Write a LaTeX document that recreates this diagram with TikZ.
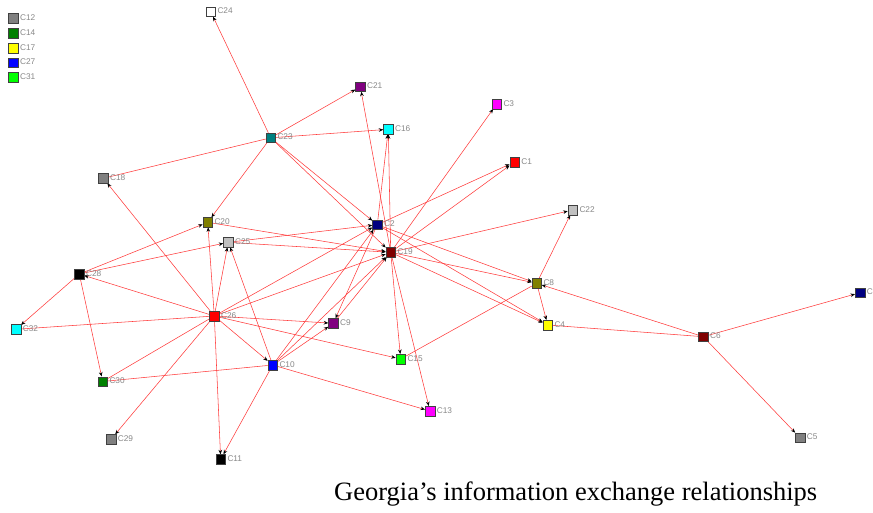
\documentclass[tikz,border=0pt]{standalone}
\usepackage{fontspec}
\setmainfont{Liberation Serif}
\newfontfamily\lblfont{Liberation Sans}
\usetikzlibrary{arrows.meta,backgrounds}
\definecolor{tiered}{RGB}{255,60,60}
\definecolor{lblgray}{RGB}{135,135,135}
% actor palette
\definecolor{pgray}{HTML}{808080}
\definecolor{psilver}{HTML}{C0C0C0}
\definecolor{pgreen}{HTML}{008000}
\definecolor{plime}{HTML}{00FF00}
\definecolor{pyellow}{HTML}{FFFF00}
\definecolor{pblue}{HTML}{0000FF}
\definecolor{pnavy}{HTML}{000080}
\definecolor{ppurple}{HTML}{800080}
\definecolor{pmagenta}{HTML}{FF00FF}
\definecolor{pcyan}{HTML}{00FFFF}
\definecolor{pteal}{HTML}{008080}
\definecolor{pred}{HTML}{FF0000}
\definecolor{pmaroon}{HTML}{800000}
\definecolor{polive}{HTML}{808000}
\tikzset{
  actor/.style={draw=black!75, line width=0.5pt, minimum size=9.5pt, inner sep=0pt, fill=#1},
  tie/.style={draw=tiered, line width=0.55pt},
  arc/.style={tie, -{Stealth[length=4.5pt,width=3.6pt,color=black]}},
  lbl/.style={font=\lblfont\fontsize{8.3}{9}\selectfont, text=lblgray, inner sep=0pt, anchor=west},
  caption/.style={font=\fontsize{26.5}{30}\selectfont, inner sep=0pt, anchor=base west}
}
% actor node with its name printed to the right
\newcommand\actornode[4]{%
  \node[actor=#4] (#1) at (#2) {};
  \node[lbl] (#1-t) at ([xshift=1.6pt,yshift=0.8pt]#1.east) {#3};}
\begin{document}
\begin{tikzpicture}[x=1pt,y=-1pt]
\path[use as bounding box] (0,0) rectangle (873,512);

% isolates
\actornode{c12}{13.3,18.3}{C12}{pgray}
\actornode{c14}{13.3,33.3}{C14}{pgreen}
\actornode{c17}{13.3,48.3}{C17}{pyellow}
\actornode{c27}{13.3,62.8}{C27}{pblue}
\actornode{c31}{13.3,77.3}{C31}{plime}

% connected actors
\actornode{c24}{210.7,11.7}{C24}{white}
\actornode{c21}{360.3,86.7}{C21}{ppurple}
\actornode{c3}{496.7,104}{C3}{pmagenta}
\actornode{c16}{388.3,129.3}{C16}{pcyan}
\actornode{c23}{270.7,137.8}{C23}{pteal}
\actornode{c1}{514.5,162}{C1}{pred}
\actornode{c18}{103.3,178.3}{C18}{pgray}
\actornode{c22}{572.7,210}{C22}{psilver}
\actornode{c20}{207.7,222.3}{C20}{polive}
\actornode{c2}{377.3,224.7}{C2}{pnavy}
\actornode{c25}{228.3,242.3}{C25}{psilver}
\actornode{c19}{390.7,252.3}{C19}{pmaroon}
\actornode{c28}{79.3,274}{C28}{black}
\actornode{c8}{536.7,283.3}{C8}{polive}
\actornode{c32}{16,329.3}{C32}{pcyan}
\actornode{c26}{214.3,316}{C26}{pred}
\actornode{c9}{333.3,323.3}{C9}{ppurple}
\actornode{c4}{547.7,325}{C4}{pyellow}
\actornode{c6}{703.3,336.7}{C6}{pmaroon}
\actornode{c15}{400.7,359}{C15}{plime}
\actornode{c10}{272.7,365}{C10}{pblue}
\actornode{c30}{102.7,381.5}{C30}{pgreen}
\actornode{c13}{430,411}{C13}{pmagenta}
\actornode{c29}{111,439.3}{C29}{pgray}
\actornode{c11}{220.7,459.3}{C11}{black}
\actornode{c5}{800,437.7}{C5}{pgray}
\actornode{cx}{860,292.7}{C}{pnavy}

\begin{pgfonlayer}{background}
  % ties around C23
  \draw[arc] (c23) -- (c24);
  \draw[arc] (c23) -- (c21);
  \draw[arc] (c23) -- (c16);
  \draw[tie] (c18) -- (c23);
  \draw[arc] (c23) -- (c20);
  \draw[arc] (c23) -- (c2);
  \draw[arc] (c23) -- (c19);
  % ties leaving C19 and C2
  \draw[arc] (c19) -- (c21);
  \draw[arc] (c19) -- (c16);
  \draw[arc] (c2) -- (c16);
  \draw[arc] (c19) -- (c3);
  \draw[arc] (c19) -- (c1);
  \draw[arc] (c2) -- (c1);
  \draw[arc] (c19) -- (c22);
  \draw[arc] (c2) -- (c8);
  \draw[arc] (c19) -- (c8);
  \draw[arc] (c2) -- (c4);
  \draw[arc] (c19) -- (c4);
  \draw[arc] (c19) -- (c15);
  \draw[arc] (c19) -- (c13);
  \draw[arc] (c2) -- (c9);
  % ties into C19 and C2
  \draw[arc] (c26) -- (c2);
  \draw[arc] (c26) -- (c19);
  \draw[arc] (c10) -- (c2);
  \draw[arc] (c10) -- (c19);
  \draw[arc] (c9) -- (c19);
  \draw[arc] (c20) -- (c19);
  \draw[arc] (c25) -- (c2);
  \draw[arc] (c25) -- (c19);
  % C28 and C26
  \draw[arc] (c28) -- (c20);
  \draw[arc] (c28) -- (c25);
  \draw[arc] (c28) -- (c30);
  \draw[arc] (c28) -- (c32);
  \draw[arc] (c26) -- (c28);
  \draw[tie] (c32) -- (c26);
  \draw[tie] (c30) -- (c26);
  \draw[arc] (c26) -- (c29);
  \draw[arc] (c26) -- (c11);
  \draw[arc] (c26) -- (c10);
  \draw[arc] (c26) -- (c9);
  \draw[arc] (c26) -- (c15);
  \draw[arc] (c26) -- (c20);
  \draw[arc] (c26) -- (c25);
  \draw[arc] (c26) -- (c18);
  % C10
  \draw[arc] (c10) -- (c11);
  \draw[tie] (c30) -- (c10);
  \draw[arc] (c10) -- (c13);
  \draw[arc] (c10) -- (c25);
  \draw[arc] (c10) -- (c9);
  % right-hand group
  \draw[tie] (c15) -- (c8);
  \draw[arc] (c6) -- (c8);
  \draw[tie] (c6) -- (c4);
  \draw[arc] (c6) -- (cx);
  \draw[arc] (c6) -- (c5);
  \draw[arc] (c8) -- (c22);
  \draw[arc] (c8) -- (c4);
\end{pgfonlayer}

\node[caption] (title) at (334,500) {Georgia’s information exchange relationships};
\end{tikzpicture}
\end{document}
